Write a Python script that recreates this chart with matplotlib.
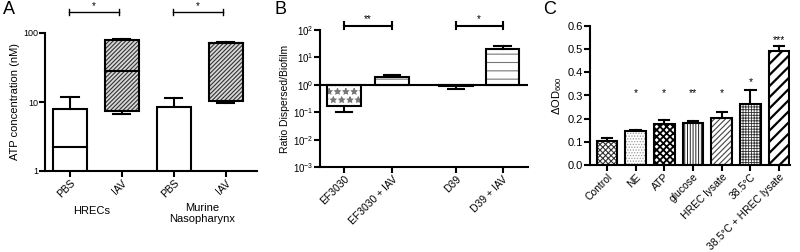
import matplotlib
matplotlib.use('Agg')
import matplotlib.pyplot as plt
import numpy as np

plt.rcParams['font.family'] = ['Liberation Sans', 'DejaVu Sans']
plt.rcParams['mathtext.fontset'] = 'custom'
plt.rcParams['mathtext.rm'] = 'Liberation Sans'
plt.rcParams['mathtext.it'] = 'Liberation Sans:italic'
plt.rcParams['axes.linewidth'] = 1.5

# ----- panel A: ATP concentration (floating boxes) -----
a_labels = ['PBS', 'IAV', 'PBS', 'IAV']
a_groups = ['HRECs', 'Murine\nNasopharynx']
a_box_lo = [0.5, 7.5, 0.5, 10.5]
a_box_hi = [8.0, 80.0, 8.5, 72.0]
a_median = [2.2, 28.0, 0.5, 72.0]
a_whisk_lo = [None, 6.8, None, 9.8]
a_whisk_hi = [12.0, 82.0, 11.5, 74.0]
a_sig = [(0, 1, '*'), (2, 3, '*')]

# ----- panel B: ratio dispersed / biofilm -----
b_labels = ['EF3030', 'EF3030 + IAV', 'D39', 'D39 + IAV']
b_ratio = [0.17, 1.9, 0.9, 20.0]
b_err = [0.1, 2.3, 0.7, 26.0]
b_sig = [(0, 1, '**'), (2, 3, '*')]

# ----- panel C: delta OD600 -----
c_labels = ['Control', 'NE', 'ATP', 'glucose', 'HREC lysate', '38.5°C',
            '38.5°C + HREC lysate']
c_od = [0.103, 0.145, 0.178, 0.180, 0.203, 0.265, 0.490]
c_err_top = [0.115, 0.150, 0.193, 0.188, 0.228, 0.325, 0.515]
c_stars = ['', '*', '*', '**', '*', '*', '***']
c_star_y = [None, 0.31, 0.31, 0.31, 0.31, 0.36, 0.54]

W, H = 800, 252
fig = plt.figure(figsize=(W / 100, H / 100), dpi=100)


def px_axes(l, t, r, b):
    return fig.add_axes([l / W, 1 - b / H, (r - l) / W, (b - t) / H])


def style_axes(ax):
    ax.spines['top'].set_visible(False)
    ax.spines['right'].set_visible(False)
    ax.tick_params(width=1.5, length=4, direction='out', pad=1)
    ax.tick_params(which='minor', length=0)


def hatched_bar(ax, x, h, w, bottom, hatch, hcolor, hlw, fc='white'):
    # hatch layer first, then black outline on top
    with plt.rc_context({'hatch.linewidth': hlw}):
        ax.bar(x, h, w, bottom=bottom, color=fc, edgecolor=hcolor,
               hatch=hatch, linewidth=0, zorder=2)
    ax.bar(x, h, w, bottom=bottom, fill=False, edgecolor='black',
           linewidth=1.5, zorder=3)


def sig_bar(ax, x0, x1, y, tick, txt, lw, txt_dy, fs=7):
    ax.plot([x0, x1], [y, y], color='black', lw=lw, clip_on=False,
            transform=ax.get_xaxis_transform())
    for xx in (x0, x1):
        ax.plot([xx, xx], [y - tick, y + tick], color='black', lw=lw,
                clip_on=False, transform=ax.get_xaxis_transform())
    ax.text((x0 + x1) / 2, y + txt_dy, txt, ha='center', va='center',
            fontsize=fs, transform=ax.get_xaxis_transform())


# ================= A =================
axA = px_axes(45, 33, 257, 171)
style_axes(axA)
a_x = np.arange(len(a_labels))
bw = 0.66
for i in range(len(a_x)):
    lo, hi = a_box_lo[i], a_box_hi[i]
    if a_labels[i] == 'IAV':
        hatched_bar(axA, a_x[i], hi - lo, bw, lo, '////////', '#333333', 0.8,
                    fc='#d8d8d8')
    else:
        axA.bar(a_x[i], hi - lo, bw, bottom=lo, fill=False,
                edgecolor='black', linewidth=1.5, zorder=3)
    axA.plot([a_x[i] - bw / 2, a_x[i] + bw / 2], [a_median[i]] * 2,
             color='black', lw=1.5, zorder=4)
    cap = bw / 4
    if a_whisk_hi[i] is not None:
        axA.plot([a_x[i], a_x[i]], [hi, a_whisk_hi[i]], color='black', lw=1.5)
        axA.plot([a_x[i] - cap, a_x[i] + cap], [a_whisk_hi[i]] * 2,
                 color='black', lw=1.5)
    if a_whisk_lo[i] is not None:
        axA.plot([a_x[i], a_x[i]], [lo, a_whisk_lo[i]], color='black', lw=1.5)
        axA.plot([a_x[i] - cap, a_x[i] + cap], [a_whisk_lo[i]] * 2,
                 color='black', lw=1.5)
axA.set_yscale('log')
axA.set_ylim(1, 100)
axA.set_xlim(-0.48, 3.6)
axA.set_yticks([1, 10, 100])
axA.set_yticklabels(['1', '10', '100'], fontsize=6.5)
axA.set_xticks(a_x)
axA.set_xticklabels(a_labels, rotation=45, ha='right', rotation_mode='anchor',
                    fontsize=7.5)
axA.set_ylabel('ATP concentration (nM)', fontsize=8, labelpad=2)
for (i, j, s) in a_sig:
    sig_bar(axA, a_x[i] - 0.02, a_x[j] - 0.06, 1.152, 0.02, s, 1.0, 0.045)
axA.text(0.42, -0.25, a_groups[0], transform=axA.get_xaxis_transform(),
         ha='center', va='top', fontsize=8)
axA.text(2.55, -0.23, a_groups[1], transform=axA.get_xaxis_transform(),
         ha='center', va='top', fontsize=8, linespacing=1.15)
fig.text(3 / W, 1 - 10 / H, 'A', fontsize=13, va='center', ha='left')

# ================= B =================
axB = px_axes(320, 30, 528, 167)
style_axes(axB)
b_x = np.array([0, 1, 2.33, 3.3])
bw = 0.7
b_hatch = ['**', '--', '', '--']
for i in range(len(b_x)):
    v = b_ratio[i]
    hatched_bar(axB, b_x[i], v - 1, bw, 1, b_hatch[i], '#777777', 0.8)
    axB.plot([b_x[i], b_x[i]], [v, b_err[i]], color='black', lw=1.5)
    axB.plot([b_x[i] - bw / 4, b_x[i] + bw / 4], [b_err[i]] * 2,
             color='black', lw=1.5)
axB.axhline(1, color='black', lw=1.5, zorder=5)
axB.set_yscale('log')
axB.set_ylim(1e-3, 1e2)
axB.set_xlim(-0.5, 3.83)
yt = [1e-3, 1e-2, 1e-1, 1, 10, 100]
axB.set_yticks(yt)
axB.set_yticklabels([r'$10^{%d}$' % np.log10(t) for t in yt], fontsize=7)
axB.set_xticks(b_x)
axB.set_xticklabels(b_labels, rotation=45, ha='right', rotation_mode='anchor',
                    fontsize=7.5)
axB.set_ylabel('Ratio Dispersed/Biofilm', fontsize=7.5, labelpad=2)
for (i, j, s) in b_sig:
    sig_bar(axB, b_x[i], b_x[j], 1.03, 0.025, s, 1.5, 0.05)
fig.text(274 / W, 1 - 10 / H, 'B', fontsize=13, va='center', ha='left')

# ================= C =================
axC = px_axes(590, 26, 790, 165)
style_axes(axC)
c_x = np.arange(len(c_labels))
bw = 0.72
c_hatch = [('xxxxxx', '#333333', 0.8), ('......', '#999999', 0.6),
           ('xxxxx', 'black', 1.3), ('||||||', '#222222', 0.7),
           ('//////', '#444444', 0.8), ('++++++', '#333333', 0.6),
           ('///', 'black', 1.6)]
for i in range(len(c_x)):
    h, col, lw = c_hatch[i]
    hatched_bar(axC, c_x[i], c_od[i], bw, 0, h, col, lw)
    axC.plot([c_x[i], c_x[i]], [c_od[i], c_err_top[i]], color='black', lw=1.5)
    axC.plot([c_x[i] - bw / 4, c_x[i] + bw / 4], [c_err_top[i]] * 2,
             color='black', lw=1.5)
    if c_stars[i]:
        axC.text(c_x[i], c_star_y[i], c_stars[i], ha='center', va='center',
                 fontsize=7.5)
axC.set_ylim(0, 0.6)
axC.set_xlim(-0.59, 6.38)
axC.set_yticks(np.arange(0, 0.61, 0.1))
axC.set_yticklabels(['%.1f' % t for t in np.arange(0, 0.61, 0.1)], fontsize=8)
axC.set_xticks(c_x)
axC.set_xticklabels(c_labels, rotation=45, ha='right', rotation_mode='anchor',
                    fontsize=7.5)
axC.set_ylabel(r'ΔOD$_{600}$', fontsize=8, labelpad=3)
fig.text(543 / W, 1 - 10 / H, 'C', fontsize=13, va='center', ha='left')

fig.savefig('out.png', dpi=100)
